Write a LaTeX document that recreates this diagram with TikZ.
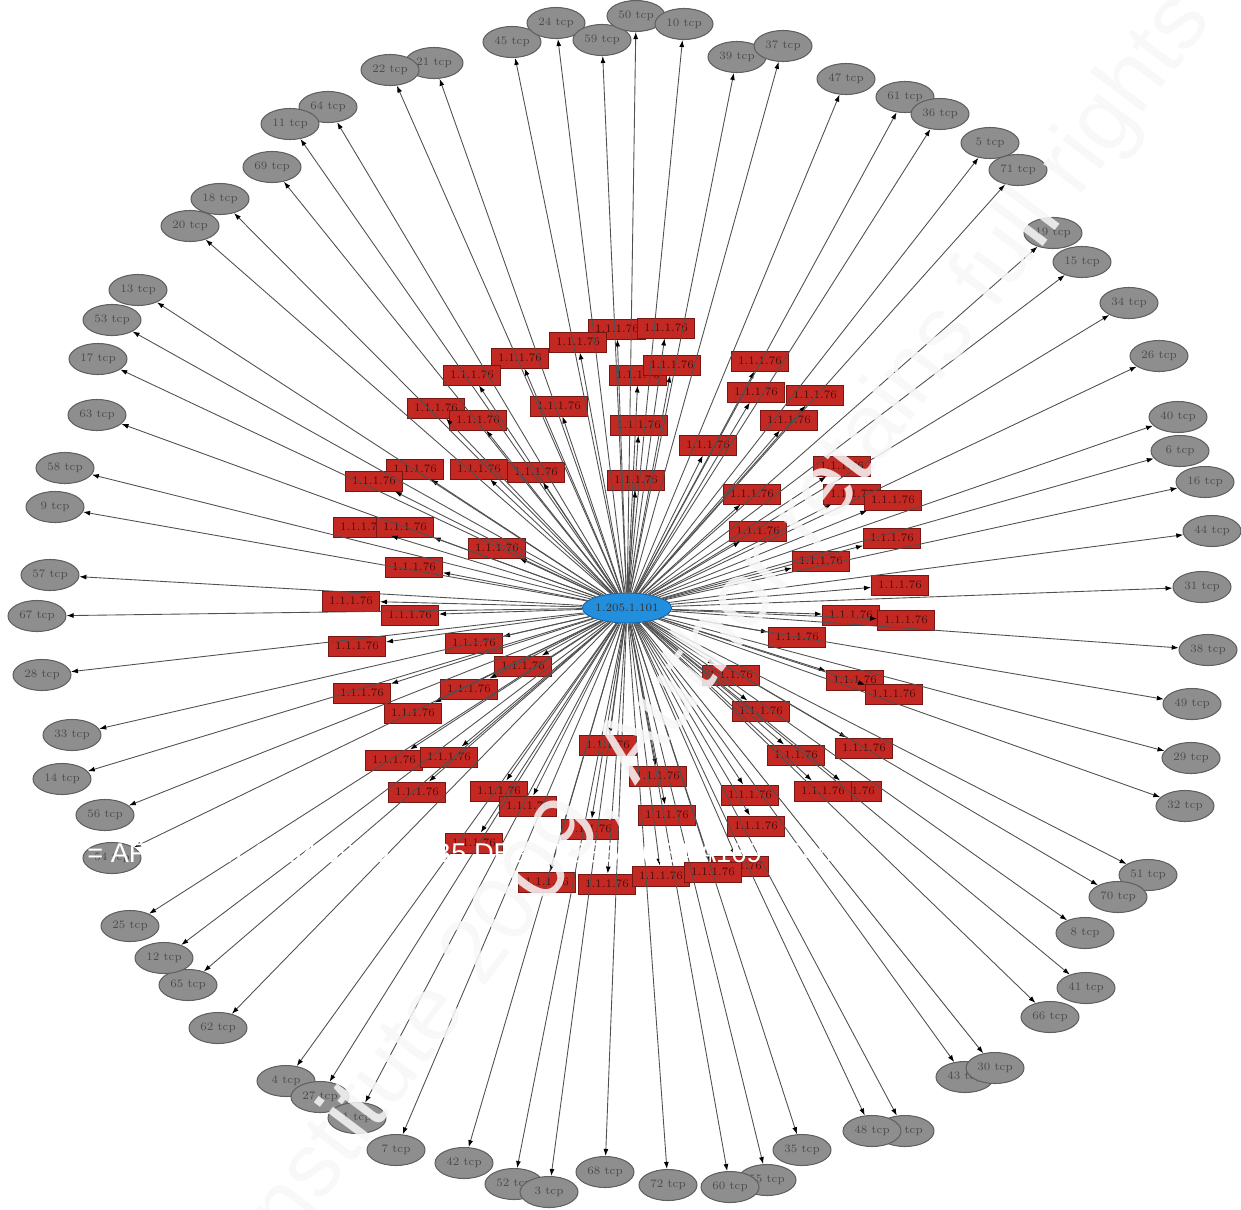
\documentclass[tikz,border=0pt]{standalone}
\usepackage{fontspec}
\newfontfamily\markfont{Liberation Sans}
\usetikzlibrary{arrows.meta,shapes.geometric}
\definecolor{hostred}{RGB}{196,40,34}
\definecolor{hostedge}{RGB}{120,22,20}
\definecolor{portgray}{RGB}{142,142,142}
\definecolor{portedge}{RGB}{96,96,96}
\definecolor{hubblue}{RGB}{34,142,222}
\definecolor{hubedge}{RGB}{22,98,170}
\definecolor{linkgray}{RGB}{80,80,80}
\definecolor{markgray}{RGB}{247,247,247}
\tikzset{
  hub/.style={ellipse,draw=hubedge,fill=hubblue,line width=0.5pt,minimum width=1.72cm,minimum height=0.6cm,inner sep=0pt,font=\fontsize{6.5}{7}\selectfont,text=black!80},
  hostbox/.style={rectangle,draw=hostedge,fill=hostred,line width=0.5pt,minimum width=1.14cm,minimum height=0.4cm,inner sep=0pt,font=\fontsize{6.5}{7}\selectfont,text=hostedge!60!black},
  port/.style={ellipse,draw=portedge,fill=portgray,line width=0.6pt,minimum width=1.16cm,minimum height=0.62cm,inner sep=0pt,font=\fontsize{6.5}{7}\selectfont,text=black!70},
  link/.style={draw=linkgray,line width=0.5pt,-{Latex[length=4pt,width=2.8pt,color=black]}},
}
\begin{document}
\begin{tikzpicture}[x=0.02cm,y=-0.02cm]
  \useasboundingbox (0,0) rectangle (1241,1210);
  % the scanning host in the middle
  \node[hub] (hub) at (627,608) {1.205.1.101};
  % the hosts that answered
  \foreach \x/\y [count=\i] in {617/329, 666/328, 578/342, 520/358, 472/375, 638/375, 672/365, 436/408, 478/420, 559/406, 639/425, 708/445, 636/480, 479/469, 536/472, 415/469, 374/481,
      760/361, 756/392, 815/395, 789/420, 842/466, 752/494, 852/494, 893/500, 758/531, 892/538,
      362/527, 405/527, 497/548, 414/567, 351/601, 410/615, 357/646, 474/643, 523/666, 469/689, 362/693, 413/713, 394/760, 449/757, 417/792, 499/791, 528/806, 474/843,
      608/745, 658/776, 590/829, 667/815, 750/795, 756/826, 796/755, 864/748, 853/791, 823/791, 731/675, 761/711, 855/680, 894/694, 797/637, 851/615, 906/620, 900/585, 821/561,
      547/882, 607/884, 661/876, 740/866, 713/872}
    {\node[hostbox] (r\i) at (\x,\y) {1.1.1.76}; \xdef\nhosts{\i}}
  % the ports on the outer ring
  \foreach \x/\y/\p [count=\i] in {512/42/45, 556/23/24, 602/40/59, 636/16/50, 684/24/10, 737/57/39, 783/46/37, 846/79/47, 905/97/61, 940/114/36,
      990/143/5, 1018/170/71, 1053/233/19, 1082/262/15, 1129/303/34, 1159/356/26, 1178/417/40, 1180/451/6, 1205/482/16, 1212/531/44,
      1202/587/31, 1208/650/38, 1192/704/49, 1191/758/29, 1185/806/32, 1148/875/51, 1118/897/70, 1085/933/8, 1086/988/41, 1050/1017/66,
      965/1077/43, 995/1068/30, 905/1131/46, 872/1131/48, 802/1150/35, 767/1180/55, 730/1187/60, 668/1185/72, 605/1172/68, 514/1184/52,
      549/1192/3, 464/1163/42, 396/1150/7, 286/1081/4, 320/1097/27, 357/1118/1, 218/1028/62, 188/985/65, 164/958/12, 130/926/25,
      112/858/54, 105/815/56, 62/779/14, 72/735/33, 42/675/28, 37/616/67, 50/575/57, 55/507/9, 65/468/58, 97/415/63,
      98/359/17, 112/320/53, 138/290/13, 220/199/18, 190/226/20, 272/167/69, 328/107/64, 290/124/11, 434/63/21, 390/70/22}
    {\node[port] (t\i) at (\x,\y) {\p\ tcp}; \xdef\nports{\i}}
  % connectors from the hub
  \foreach \i in {1,...,\nhosts} \draw[link] (hub) -- (r\i);
  \foreach \i in {1,...,\nports} \draw[link] (hub) -- (t\i);
  % watermark over the graph
  \node[anchor=west,inner sep=0pt,text=white,font=\markfont\fontsize{15.5}{16}\selectfont] (keyprint) at (87,853) {= AF19 FA27 2F94 998D FDB5 DE3D F8B5 06E4 A169 4E46};
  \node[rotate=53,inner sep=0pt,text=markgray,opacity=0.85,font=\markfont\fontsize{52}{52}\selectfont] (copyright) at (615,775) {© SANS Institute 2009, Author retains full rights};
\end{tikzpicture}
\end{document}
